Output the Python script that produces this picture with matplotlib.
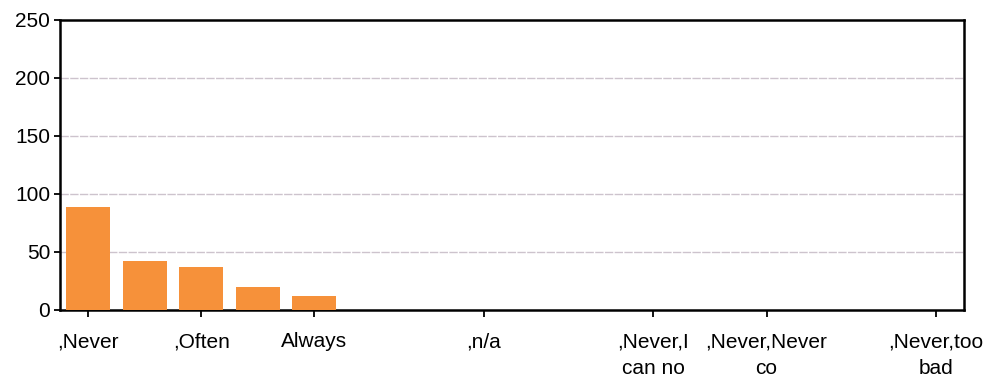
import matplotlib
matplotlib.use("Agg")
import matplotlib.pyplot as plt
import numpy as np

plt.rcParams['font.family'] = ['Liberation Sans', 'DejaVu Sans']

# Response categories (only some carry a visible label on the axis)
categories = [",Never", "", ",Often", "", "Always", "", "", ",n/a", "", "",
              ",Never,I\ncan no", "", ",Never,Never\nco", "", "", ",Never,too\nbad"]
counts = [89, 42, 37, 20, 12, 0, 0, 0, 0, 0, 0, 0, 0, 0, 0, 0]
y_ticks = [0, 50, 100, 150, 200, 250]

fig = plt.figure(figsize=(9.85, 3.77), dpi=100)
ax = fig.add_axes([0.061, 0.178, 0.918, 0.769])

x = np.arange(len(categories))
ax.bar(x, counts, width=0.78, color="#F6913A", zorder=3)

ax.set_xlim(-0.5, len(categories) - 0.5)
ax.set_ylim(0, 250)
ax.set_yticks(y_ticks)
ax.set_yticklabels([str(v) for v in y_ticks], fontsize=15)

labeled = [i for i, c in enumerate(categories) if c]
ax.set_xticks(labeled)
ax.set_xticklabels([categories[i] for i in labeled], fontsize=15, linespacing=1.5)

ax.tick_params(axis="x", direction="out", length=5, width=1.3, pad=11)
ax.tick_params(axis="y", direction="out", length=4, width=1.3, pad=3)

for y in y_ticks[1:-1]:
    ax.axhline(y, color="#cdc3cd", linewidth=1.0, linestyle=(0, (6, 1)), zorder=1)

for side in ["left", "right", "top", "bottom"]:
    ax.spines[side].set_color("black")
    ax.spines[side].set_linewidth(1.8)

fig.savefig("out.png", dpi=100, facecolor="white")
